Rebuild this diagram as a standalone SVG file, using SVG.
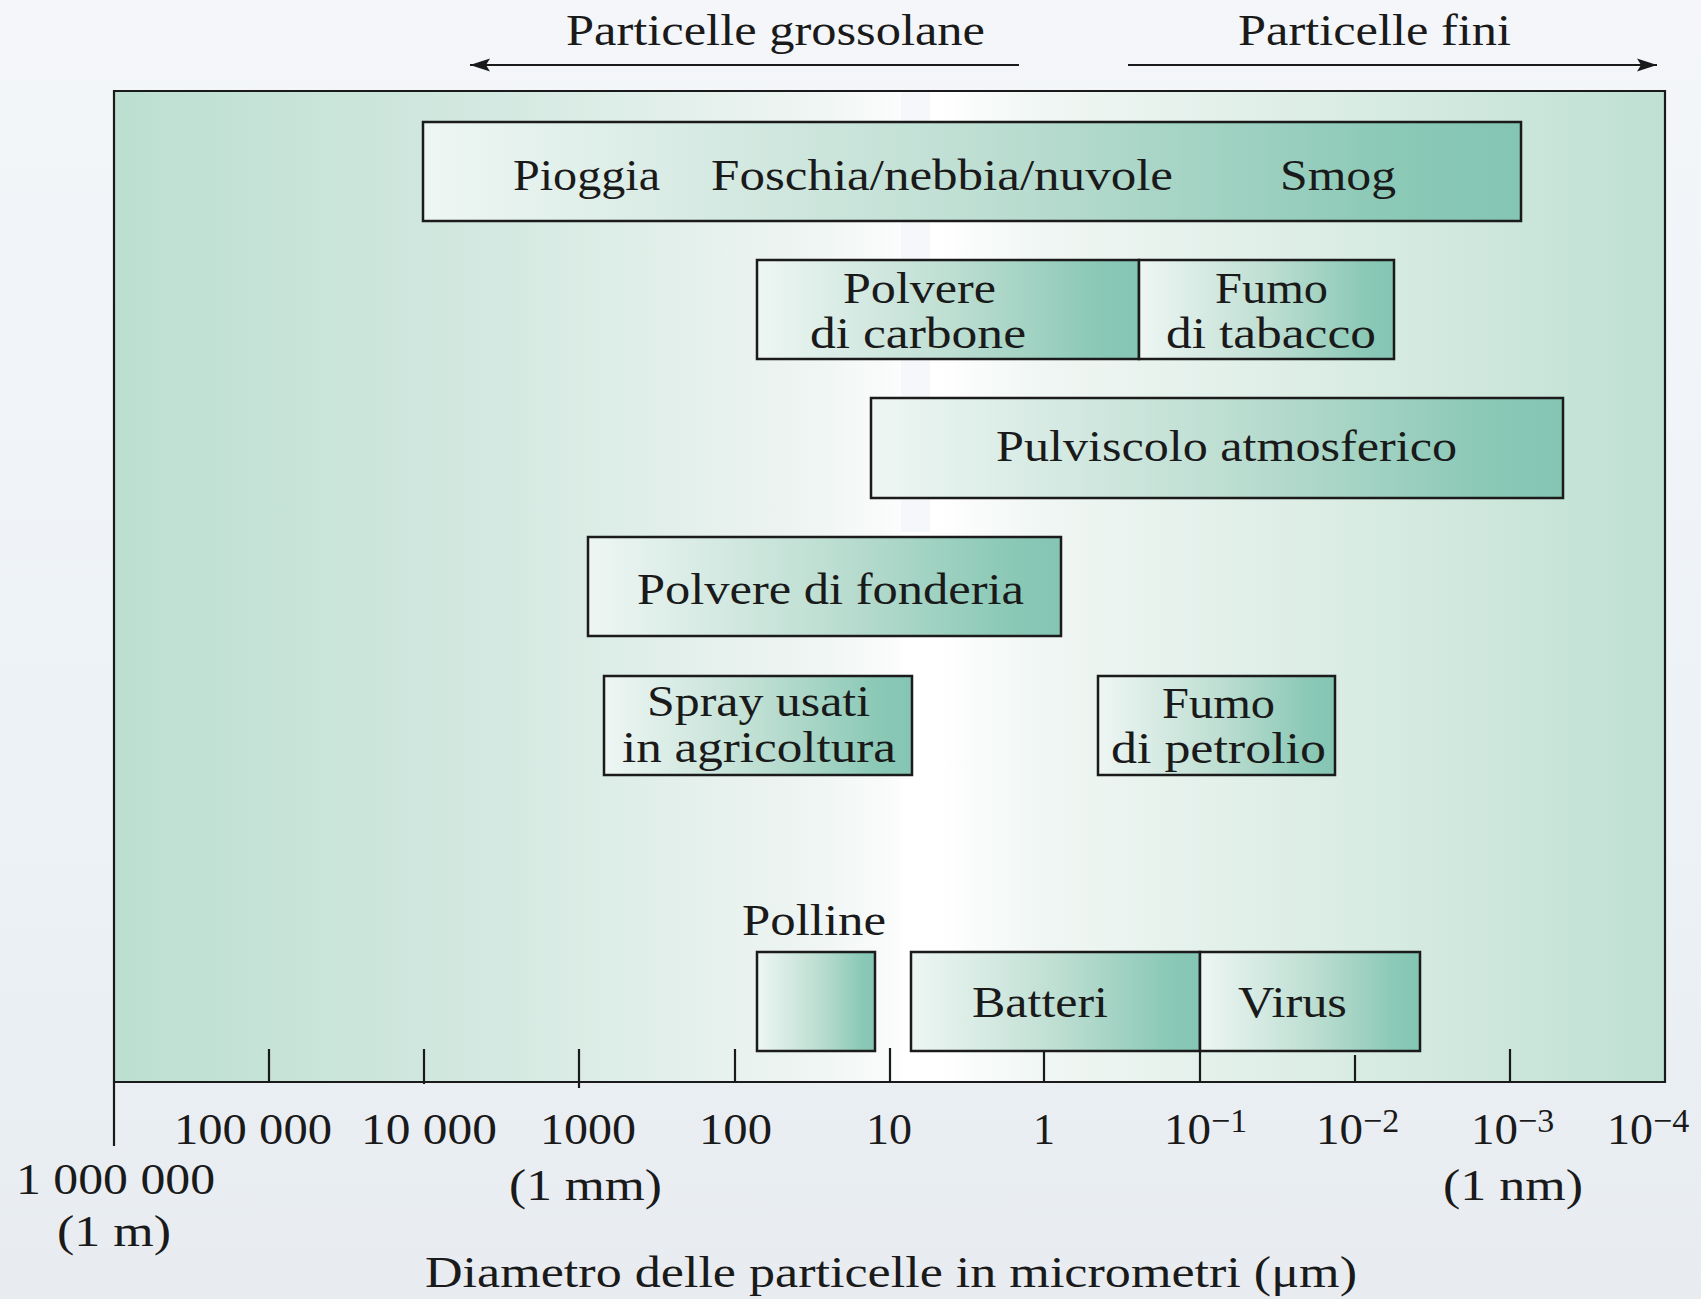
<svg xmlns="http://www.w3.org/2000/svg" width="1701" height="1299" viewBox="0 0 1701 1299">
  <defs>
    <linearGradient id="sky" x1="0" y1="0" x2="0" y2="1">
      <stop offset="0" stop-color="#f4f6f9"/>
      <stop offset="0.6" stop-color="#edf2f7"/>
      <stop offset="1" stop-color="#e8ecf0"/>
    </linearGradient>
    <linearGradient id="frameGrad" gradientUnits="userSpaceOnUse" x1="114" y1="0" x2="1665" y2="0">
      <stop offset="0" stop-color="#bcdfd1"/>
      <stop offset="0.06" stop-color="#c2e1d5"/>
      <stop offset="0.25" stop-color="#d4e9e1"/>
      <stop offset="0.44" stop-color="#edf4f1"/>
      <stop offset="0.505" stop-color="#fbfcfc"/>
      <stop offset="0.51" stop-color="#ffffff"/>
      <stop offset="0.53" stop-color="#ffffff"/>
      <stop offset="0.6" stop-color="#f0f6f3"/>
      <stop offset="0.8" stop-color="#d9ece4"/>
      <stop offset="1" stop-color="#bfe0d3"/>
    </linearGradient>
    <linearGradient id="boxGrad" x1="0" y1="0" x2="1" y2="0">
      <stop offset="0" stop-color="#eef6f3"/>
      <stop offset="0.5" stop-color="#bfdfd3"/>
      <stop offset="0.88" stop-color="#8cc9b7"/>
      <stop offset="1" stop-color="#84c5b3"/>
    </linearGradient>
    <marker id="arrow" markerUnits="userSpaceOnUse" markerWidth="24" markerHeight="16" refX="20" refY="8" orient="auto">
      <path d="M0,1.5 L20,8 L0,14.5 L4,8 Z" fill="#1a1a1a"/>
    </marker>
    <style>
      .t { font-family: "Liberation Serif", "DejaVu Serif", serif; font-size: 44px; fill: #1a1a1a; }
      .sup { font-size: 34px; }
      .box { stroke: #1b1b1b; stroke-width: 2.5; fill: url(#boxGrad); }
      .ln { stroke: #1a1a1a; stroke-width: 2.2; fill: none; }
    </style>
  </defs>

  <rect x="0" y="0" width="1701" height="1299" fill="url(#sky)"/>

  <!-- header arrows -->
  <g id="header">
    <text class="t" x="566" y="45" textLength="419" lengthAdjust="spacingAndGlyphs">Particelle grossolane</text>
    <text class="t" x="1238" y="45" textLength="273" lengthAdjust="spacingAndGlyphs">Particelle fini</text>
  </g>

  <!-- frame -->
  <g id="frame">
    <rect x="114" y="91" width="1551" height="991" fill="url(#frameGrad)"/>
    <rect x="901" y="92" width="29" height="440" fill="#f3f5f9" opacity="0.8"/>
    <path class="ln" d="M114,1146 L114,91 L1665,91 L1665,1082 L114,1082" stroke-width="2.6"/>
  </g>

  <g id="connectors">
    <line class="ln" x1="1019" y1="65" x2="470" y2="65" marker-end="url(#arrow)"/>
    <line class="ln" x1="1128" y1="65" x2="1657" y2="65" marker-end="url(#arrow)"/>
  </g>

  <!-- axis ticks -->
  <g id="axis">
    <line class="ln" x1="269" y1="1049" x2="269" y2="1082"/>
    <line class="ln" x1="424" y1="1049" x2="424" y2="1084"/>
    <line class="ln" x1="579" y1="1049" x2="579" y2="1088"/>
    <line class="ln" x1="735" y1="1049" x2="735" y2="1082"/>
    <line class="ln" x1="890" y1="1048" x2="890" y2="1082"/>
    <line class="ln" x1="1044" y1="1051" x2="1044" y2="1082"/>
    <line class="ln" x1="1200" y1="1051" x2="1200" y2="1082"/>
    <line class="ln" x1="1355" y1="1055" x2="1355" y2="1082"/>
    <line class="ln" x1="1510" y1="1049" x2="1510" y2="1082"/>

    <text class="t" x="174" y="1144" textLength="158" lengthAdjust="spacingAndGlyphs">100 000</text>
    <text class="t" x="361" y="1144" textLength="136" lengthAdjust="spacingAndGlyphs">10 000</text>
    <text class="t" x="540" y="1144" textLength="96" lengthAdjust="spacingAndGlyphs">1000</text>
    <text class="t" x="699" y="1144" textLength="73" lengthAdjust="spacingAndGlyphs">100</text>
    <text class="t" x="866" y="1144" textLength="46" lengthAdjust="spacingAndGlyphs">10</text>
    <text class="t" x="1033" y="1144">1</text>
    <text class="t" x="1164" y="1144"><tspan textLength="47" lengthAdjust="spacingAndGlyphs">10</tspan><tspan class="sup" dy="-12">−1</tspan></text>
    <text class="t" x="1316" y="1144"><tspan textLength="47" lengthAdjust="spacingAndGlyphs">10</tspan><tspan class="sup" dy="-12">−2</tspan></text>
    <text class="t" x="1471" y="1144"><tspan textLength="47" lengthAdjust="spacingAndGlyphs">10</tspan><tspan class="sup" dy="-12">−3</tspan></text>
    <text class="t" x="1607" y="1144"><tspan textLength="46" lengthAdjust="spacingAndGlyphs">10</tspan><tspan class="sup" dy="-12">−4</tspan></text>

    <text class="t" x="16" y="1194" textLength="199" lengthAdjust="spacingAndGlyphs">1 000 000</text>
    <text class="t" x="57" y="1246" textLength="114" lengthAdjust="spacingAndGlyphs">(1 m)</text>
    <text class="t" x="509" y="1200" textLength="153" lengthAdjust="spacingAndGlyphs">(1 mm)</text>
    <text class="t" x="1443" y="1200" textLength="140" lengthAdjust="spacingAndGlyphs">(1 nm)</text>
    <text class="t" x="425" y="1287" textLength="932" lengthAdjust="spacingAndGlyphs">Diametro delle particelle in micrometri (μm)</text>
  </g>

  <!-- nodes -->
  <g id="node-precipitazioni">
    <rect class="box" x="423" y="122" width="1098" height="99"/>
    <text class="t" x="513" y="190" textLength="147" lengthAdjust="spacingAndGlyphs">Pioggia</text>
    <text class="t" x="711" y="190" textLength="462" lengthAdjust="spacingAndGlyphs">Foschia/nebbia/nuvole</text>
    <text class="t" x="1280" y="190" textLength="116" lengthAdjust="spacingAndGlyphs">Smog</text>
  </g>

  <g id="node-polvere-carbone">
    <rect class="box" x="757" y="260" width="382" height="99"/>
    <text class="t" x="843" y="303" textLength="153" lengthAdjust="spacingAndGlyphs">Polvere</text>
    <text class="t" x="810" y="348" textLength="216" lengthAdjust="spacingAndGlyphs">di carbone</text>
  </g>

  <g id="node-fumo-tabacco">
    <rect class="box" x="1139" y="260" width="255" height="99"/>
    <text class="t" x="1215" y="303" textLength="113" lengthAdjust="spacingAndGlyphs">Fumo</text>
    <text class="t" x="1166" y="348" textLength="210" lengthAdjust="spacingAndGlyphs">di tabacco</text>
  </g>

  <g id="node-pulviscolo">
    <rect class="box" x="871" y="398" width="692" height="100"/>
    <text class="t" x="996" y="461" textLength="461" lengthAdjust="spacingAndGlyphs">Pulviscolo atmosferico</text>
  </g>

  <g id="node-fonderia">
    <rect class="box" x="588" y="537" width="473" height="99"/>
    <text class="t" x="637" y="604" textLength="387" lengthAdjust="spacingAndGlyphs">Polvere di fonderia</text>
  </g>

  <g id="node-spray">
    <rect class="box" x="604" y="676" width="308" height="99"/>
    <text class="t" x="647" y="716" textLength="223" lengthAdjust="spacingAndGlyphs">Spray usati</text>
    <text class="t" x="622" y="762" textLength="274" lengthAdjust="spacingAndGlyphs">in agricoltura</text>
  </g>

  <g id="node-fumo-petrolio">
    <rect class="box" x="1098" y="676" width="237" height="99"/>
    <text class="t" x="1162" y="718" textLength="113" lengthAdjust="spacingAndGlyphs">Fumo</text>
    <text class="t" x="1111" y="763" textLength="215" lengthAdjust="spacingAndGlyphs">di petrolio</text>
  </g>

  <g id="node-polline">
    <text class="t" x="742" y="935" textLength="144" lengthAdjust="spacingAndGlyphs">Polline</text>
    <rect class="box" x="757" y="952" width="118" height="99"/>
  </g>

  <g id="node-batteri">
    <rect class="box" x="911" y="952" width="289" height="99"/>
    <text class="t" x="972" y="1017" textLength="136" lengthAdjust="spacingAndGlyphs">Batteri</text>
  </g>

  <g id="node-virus">
    <rect class="box" x="1200" y="952" width="220" height="99"/>
    <text class="t" x="1238" y="1017" textLength="109" lengthAdjust="spacingAndGlyphs">Virus</text>
  </g>
</svg>
